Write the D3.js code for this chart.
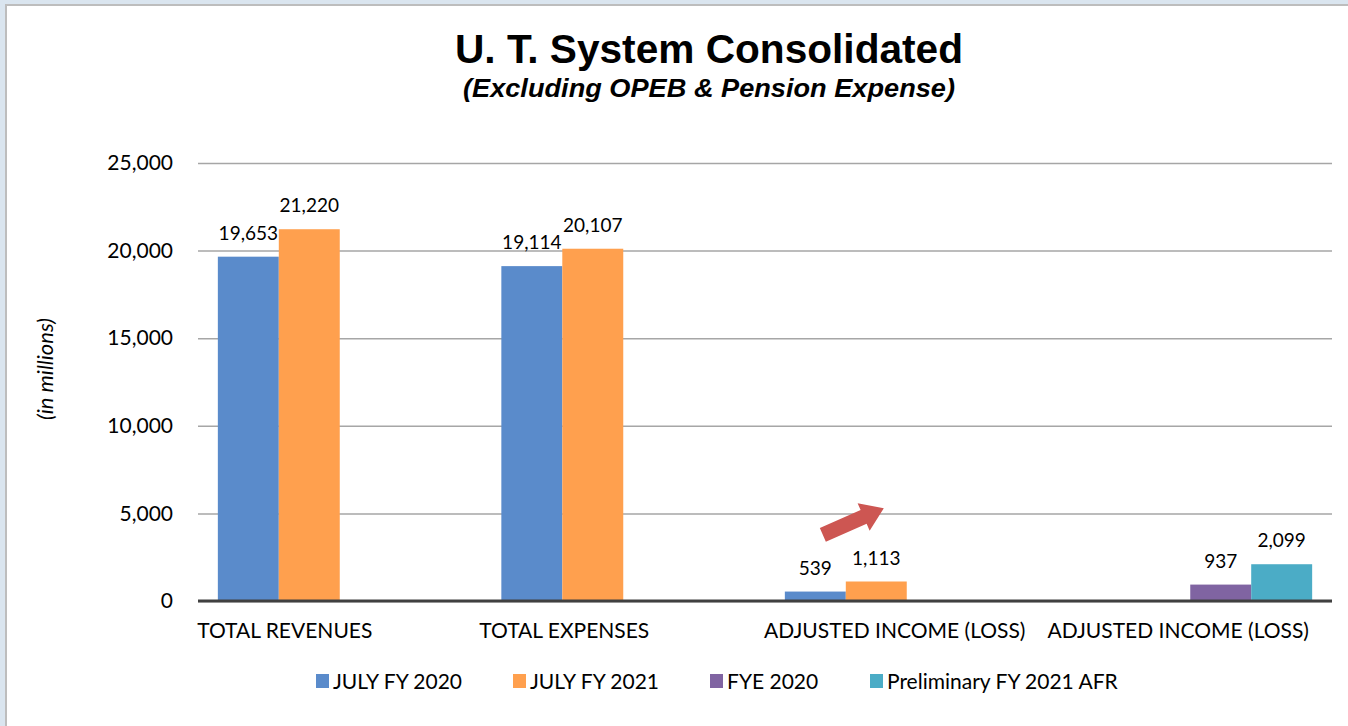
<!DOCTYPE html>
<html>
<head>
<meta charset="utf-8">
<script src="https://cdn.jsdelivr.net/npm/d3@7"></script>
<style>
    html, body { margin: 0; padding: 0; background: #dae5ef; }
    .frame { position: absolute; left: 5px; top: 4px; width: 1343px; height: 722px;
             box-sizing: border-box; background: #fff; border-left: 2px solid #bdbdbd; border-top: 2px solid #bdbdbd; }
    svg { position: absolute; left: 0; top: 0; display: block; }
</style>
</head>
<body>
<div class="frame"></div>
<svg id="chart"></svg>
<script>
const categories = ["TOTAL REVENUES", "TOTAL EXPENSES", "ADJUSTED INCOME (LOSS)", "ADJUSTED INCOME (LOSS) "];
const seriesNames = ["JULY FY 2020", "JULY FY 2021", "FYE 2020", "Preliminary FY 2021 AFR"];
const july2020 = [19653, 19114, 539, null];
const july2021 = [21220, 20107, 1113, null];
const fye2020 = [null, null, null, 937];
const prelim2021 = [null, null, null, 2099];
const yTicks = [0, 5000, 10000, 15000, 20000, 25000];

const colors = ["#5a8bcb", "#ffa04e", "#8064a2", "#4bacc6"];
// category labels in the original sit a bit left of the group centres
const labelShift = [-55, -59, -12, -12];

const width = 1348, height = 726;
const margin = { top: 163, right: 16, bottom: 125, left: 198 };
const innerWidth = width - margin.left - margin.right;
const innerHeight = height - margin.top - margin.bottom;
const font = "Lato, 'Open Sans', sans-serif";

const svg = d3.select("#chart").attr("width", width).attr("height", height);

// Title
svg.append("text")
    .attr("x", 709).attr("y", 63)
    .attr("text-anchor", "middle")
    .attr("font-family", "'Liberation Sans', Arial, sans-serif")
    .attr("font-weight", "bold")
    .attr("font-size", 40)
    .attr("textLength", 508).attr("lengthAdjust", "spacingAndGlyphs")
    .text("U. T. System Consolidated");

svg.append("text")
    .attr("x", 709).attr("y", 97)
    .attr("text-anchor", "middle")
    .attr("font-family", "'Liberation Sans', Arial, sans-serif")
    .attr("font-weight", "bold")
    .attr("font-style", "italic")
    .attr("font-size", 25)
    .attr("textLength", 492).attr("lengthAdjust", "spacingAndGlyphs")
    .text("(Excluding OPEB & Pension Expense)");

const g = svg.append("g").attr("transform", `translate(${margin.left},${margin.top})`);

const x0 = d3.scaleBand().domain(categories).range([0, innerWidth]).paddingInner(0.14).paddingOuter(0.07);
const x1 = d3.scaleBand().domain(seriesNames).range([0, x0.bandwidth()]);
const y = d3.scaleLinear().domain([0, 25000]).range([innerHeight, 0]);

// Y axis with gridlines
const yAxis = g.append("g")
    .call(d3.axisLeft(y).tickValues(yTicks).tickSize(-innerWidth).tickPadding(25).tickFormat(d3.format(",")))
    .attr("font-family", font).attr("font-size", 21);
yAxis.select(".domain").remove();
yAxis.selectAll(".tick line").attr("stroke", "#a6a6a6").attr("stroke-width", 1.5);
yAxis.selectAll(".tick text").attr("fill", "#000");

// Y label
svg.append("text")
    .attr("transform", `translate(53,369) rotate(-90)`)
    .attr("text-anchor", "middle")
    .attr("font-family", font)
    .attr("font-style", "italic")
    .attr("font-size", 22)
    .text("(in  millions)");

// Bars
const allSeries = [july2020, july2021, fye2020, prelim2021];
const barData = [];
categories.forEach((c, i) => {
    seriesNames.forEach((s, j) => {
        const v = allSeries[j][i];
        if (v != null) barData.push({ cat: c, series: s, value: v, color: colors[j] });
    });
});

g.selectAll("rect.bar")
    .data(barData)
    .join("rect")
    .attr("class", "bar")
    .attr("x", d => x0(d.cat) + x1(d.series))
    .attr("y", d => y(d.value))
    .attr("width", x1.bandwidth())
    .attr("height", d => innerHeight - y(d.value))
    .attr("fill", d => d.color);

// Data labels
g.selectAll("text.val")
    .data(barData)
    .join("text")
    .attr("class", "val")
    .attr("x", d => x0(d.cat) + x1(d.series) + x1.bandwidth() / 2)
    .attr("y", d => y(d.value) - 17)
    .attr("text-anchor", "middle")
    .attr("font-family", font)
    .attr("font-size", 19)
    .text(d => d3.format(",")(d.value));

// Zero line
g.append("line")
    .attr("x1", 0).attr("x2", innerWidth)
    .attr("y1", y(0)).attr("y2", y(0))
    .attr("stroke", "#404040").attr("stroke-width", 3);

// X axis labels
const xAxis = g.append("g")
    .attr("transform", `translate(0,${innerHeight})`)
    .call(d3.axisBottom(x0).tickSize(0).tickPadding(22))
    .attr("font-family", font).attr("font-size", 21);
xAxis.select(".domain").remove();
xAxis.selectAll(".tick text")
    .attr("dx", (d, i) => labelShift[i])
    .attr("fill", "#000");

// Arrow annotation over the adjusted income group
const ax0 = x0(categories[2]) + x1(seriesNames[0]) + 38, ay0 = y(3780);
const ax1 = x0(categories[2]) + x1(seriesNames[1]) + 38, ay1 = y(5300);
const len = Math.hypot(ax1 - ax0, ay1 - ay0);
const ang = Math.atan2(ay1 - ay0, ax1 - ax0) * 180 / Math.PI;
const sw = 7.5, hw = 15, hl = 22;
g.append("path")
    .attr("transform", `translate(${ax0},${ay0}) rotate(${ang})`)
    .attr("d", `M0,${-sw} L${len - hl},${-sw} L${len - hl},${-hw} L${len},0 L${len - hl},${hw} L${len - hl},${sw} L0,${sw} Z`)
    .attr("fill", "#cd5652");

// Legend
const legendX = [316, 513, 710, 870];
const legend = svg.append("g")
    .attr("transform", "translate(0,681)")
    .attr("font-family", font).attr("font-size", 21);
seriesNames.forEach((s, i) => {
    legend.append("rect").attr("x", legendX[i]).attr("y", -7).attr("width", 13).attr("height", 14).attr("fill", colors[i]);
    legend.append("text")
        .attr("x", legendX[i] + 17).attr("y", 7.5)
        .text(s);
});
</script>
</body>
</html>
